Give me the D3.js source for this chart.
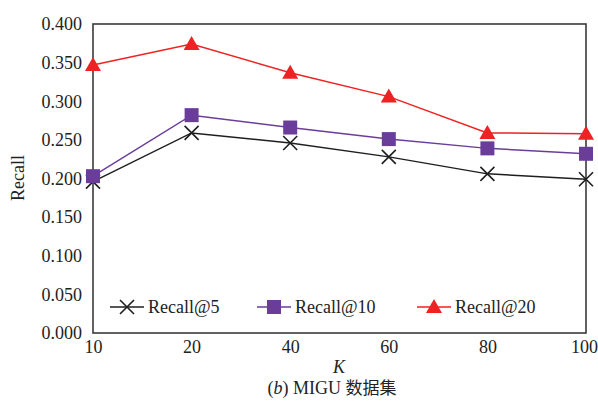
<!DOCTYPE html>
<html><head><meta charset="utf-8">
<script src="https://cdn.jsdelivr.net/npm/d3@7/dist/d3.min.js"></script>
<style>body{margin:0;background:#fff}svg{display:block}</style>
</head><body><svg id="c" width="598" height="404"></svg>
<script>
const categories = ["10","20","40","60","80","100"];
const recall5  = [0.196,0.259,0.246,0.228,0.206,0.199];
const recall10 = [0.203,0.282,0.266,0.251,0.239,0.232];
const recall20 = [0.347,0.374,0.337,0.306,0.259,0.258];
const yTicks = [0,0.05,0.1,0.15,0.2,0.25,0.3,0.35,0.4];
const seriesNames = ["Recall@5","Recall@10","Recall@20"];

const svg = d3.select("#c");
const L=93,R=586,T=24,B=333;
const font="'Liberation Serif','Times New Roman',serif";
const FS=18;
const x = d3.scalePoint().domain(categories).range([L,R]).padding(0);
const y = d3.scaleLinear().domain([0,0.4]).range([B,T]);

const yAxis = svg.append("g").attr("transform",`translate(${L},0)`)
  .call(d3.axisLeft(y).tickValues(yTicks).tickFormat(d3.format(".3f")).tickSize(0).tickPadding(11));
yAxis.select(".domain").remove();
yAxis.selectAll("text").attr("font-family",font).attr("font-size",FS).attr("fill","#222");
const xAxis = svg.append("g").attr("transform",`translate(0,${B})`)
  .call(d3.axisBottom(x).tickSize(0).tickPadding(7));
xAxis.select(".domain").remove();
xAxis.selectAll("text").attr("font-family",font).attr("font-size",FS).attr("fill","#222")
  .attr("dx",d=>d===categories[categories.length-1]?"-2":"0");

svg.append("rect").attr("x",L).attr("y",T).attr("width",R-L).attr("height",B-T)
  .attr("fill","none").attr("stroke","#3a3a3a").attr("stroke-width",1.6);

const line = d3.line().x((d,i)=>x(categories[i])).y(d=>y(d));
const cols = ["#1e1e1e","#6a3d9a","#ee2222"];
const data=[recall5,recall10,recall20];
function marker(g,k,cx,cy){
  if(k===0){
    g.append("path").attr("d",`M${cx-7},${cy-7}L${cx+7},${cy+7}M${cx-7},${cy+7}L${cx+7},${cy-7}`)
     .attr("stroke",cols[0]).attr("stroke-width",1.6).attr("fill","none");
  } else if(k===1){
    g.append("rect").attr("x",cx-7).attr("y",cy-7).attr("width",14).attr("height",14).attr("fill",cols[1]);
  } else {
    g.append("path").attr("d",`M${cx},${cy-8}L${cx+8},${cy+6}L${cx-8},${cy+6}Z`).attr("fill",cols[2]);
  }
}
data.forEach((s,k)=>{
  svg.append("path").datum(s).attr("d",line).attr("fill","none").attr("stroke",cols[k]).attr("stroke-width",1.5);
  const g=svg.append("g");
  s.forEach((v,i)=>marker(g,k,x(categories[i]),y(v)));
});

// legend
const legX=[110,257,417];
const legY=307;
seriesNames.forEach((n,k)=>{
  svg.append("line").attr("x1",legX[k]).attr("x2",legX[k]+34).attr("y1",legY).attr("y2",legY)
    .attr("stroke",cols[k]).attr("stroke-width",1.5);
  marker(svg.append("g"),k,legX[k]+17,legY);
  svg.append("text").attr("x",legX[k]+38).attr("y",legY+6).attr("font-family",font)
    .attr("font-size",FS).attr("fill","#222").text(n);
});

svg.append("text").attr("transform",`translate(24,178) rotate(-90)`).attr("text-anchor","middle")
  .attr("font-family",font).attr("font-size",FS).attr("fill","#222").text("Recall");
svg.append("text").attr("x",339).attr("y",373).attr("text-anchor","middle").attr("font-family",font)
  .attr("font-style","italic").attr("font-size",FS).attr("fill","#222").text("K");
const cap=svg.append("text").attr("x",332).attr("y",394).attr("text-anchor","middle").attr("font-family",font)
  .attr("font-size",FS).attr("fill","#222");
cap.append("tspan").text("(");
cap.append("tspan").attr("font-style","italic").text("b");
cap.append("tspan").text(") MIGU ");
cap.append("tspan").attr("font-family","'Noto Sans CJK SC',serif").attr("font-size",17).text("数据集");
</script></body></html>
